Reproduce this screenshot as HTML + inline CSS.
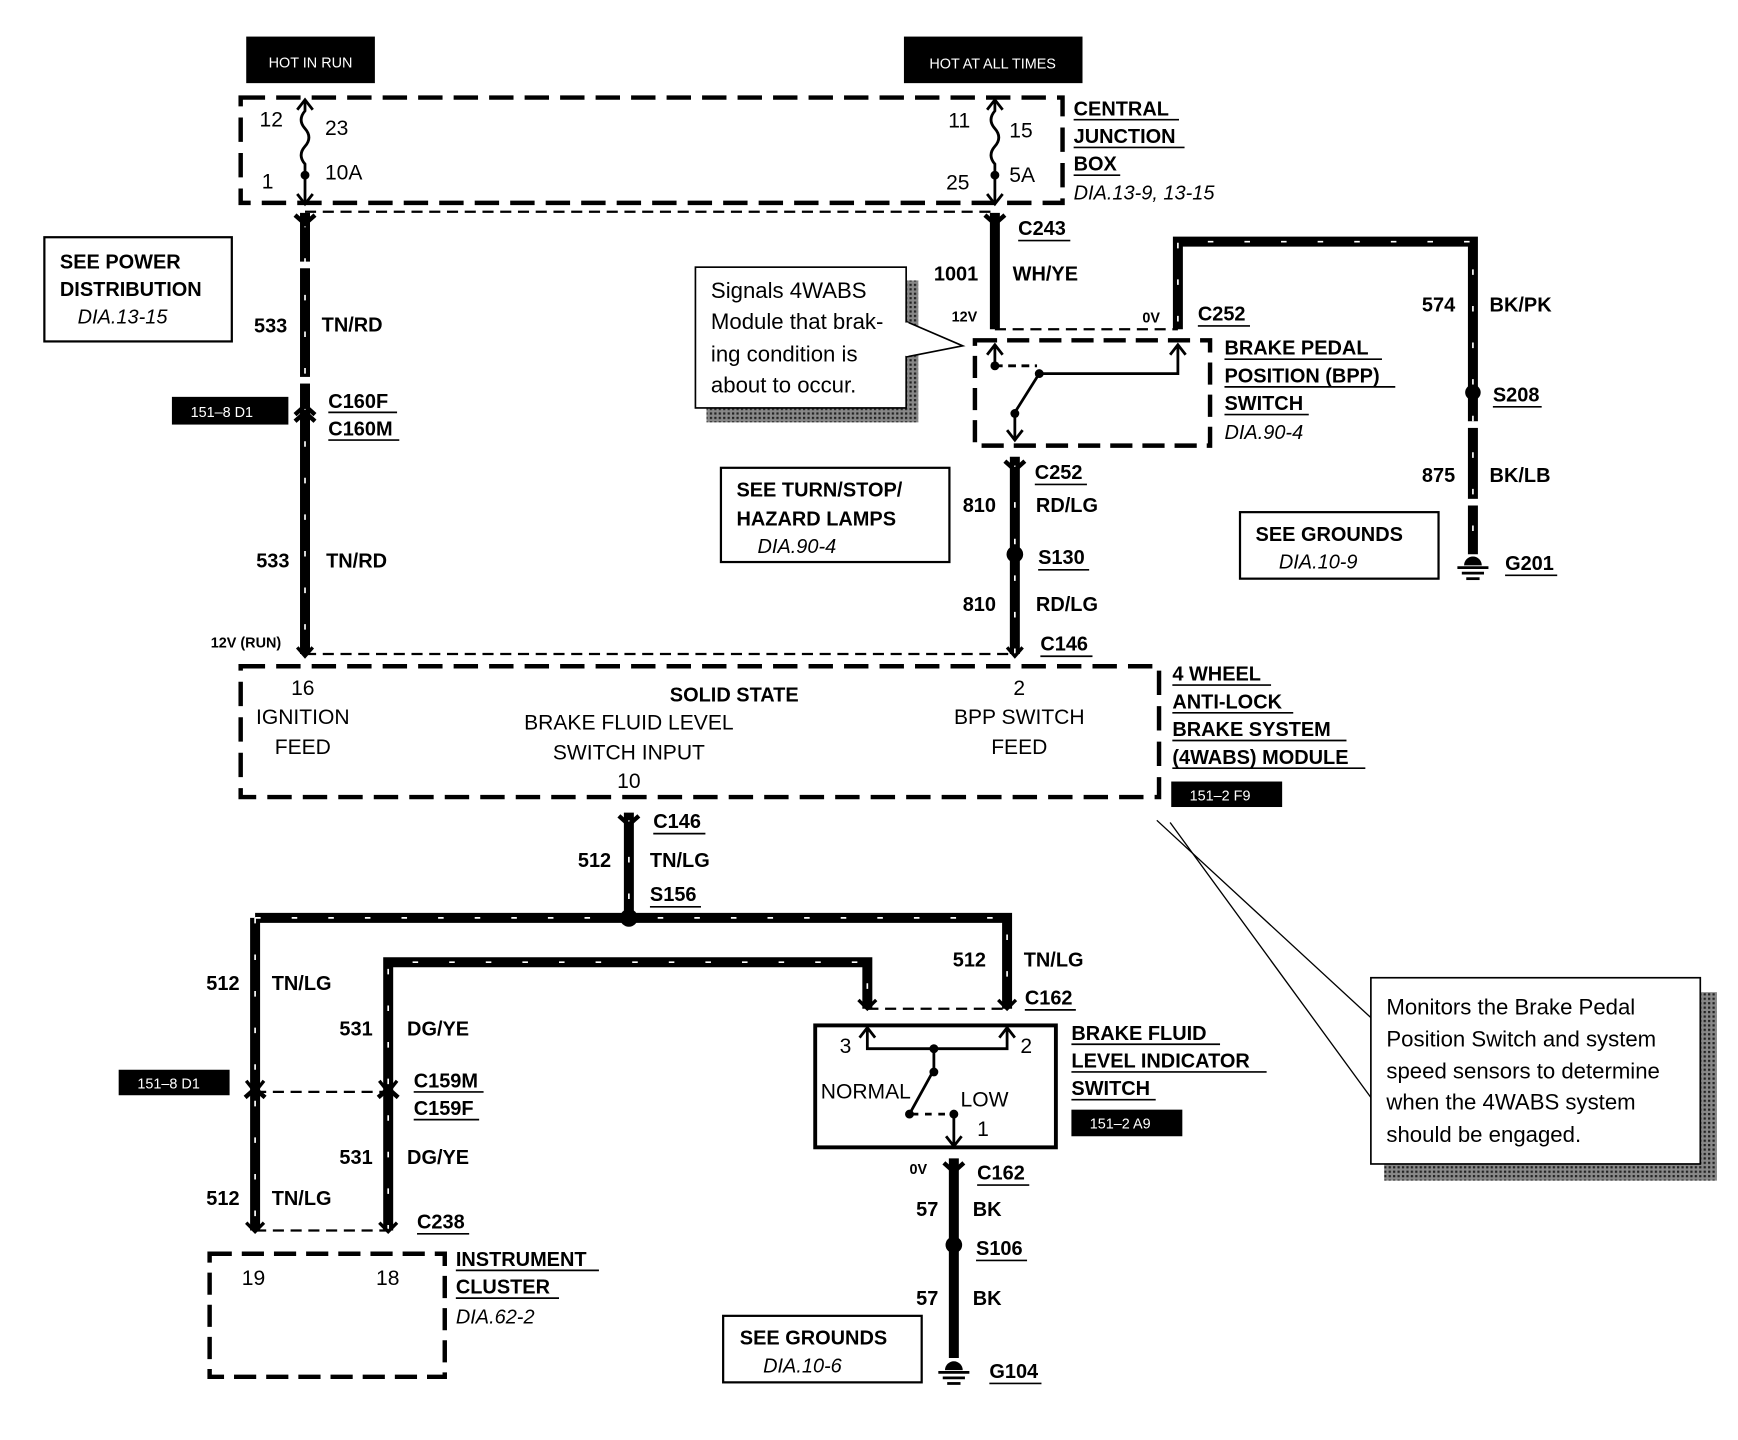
<!DOCTYPE html>
<html><head><meta charset="utf-8"><style>
html,body{margin:0;padding:0;background:#fff;}
svg{display:block}
text{font-family:"Liberation Sans",Arial,sans-serif;fill:#000}
.b{font-weight:bold;font-size:18px}
.n{font-size:19px}
.i{font-style:italic;font-size:18px}
.s{font-size:13px;fill:#fff}
.u{stroke:#000;stroke-width:1.5}
</style></head><body>
<svg width="1738" height="1440" viewBox="0 0 1567 1299" preserveAspectRatio="none" xmlns="http://www.w3.org/2000/svg">
<defs>
<pattern id="sh" width="4" height="4" patternUnits="userSpaceOnUse"><rect width="4" height="4" fill="#888"/><rect width="2" height="2" fill="#222"/></pattern>
</defs>
<rect width="1567" height="1299" fill="#fff"/>

<rect x="222" y="33" width="116" height="42" fill="#000"/>
<text x="280" y="61" class="s" text-anchor="middle">HOT IN RUN</text>
<rect x="815" y="33" width="161" height="42" fill="#000"/>
<text x="895" y="62" class="s" text-anchor="middle">HOT AT ALL TIMES</text>

<g fill="none" stroke="#000" stroke-width="9">
<path d="M275 192 V590"/>
<path d="M897 192 V297"/>
<path d="M1062 297 V218 H1328 V500"/>
<path d="M915 412 V590"/>
<path d="M567 733 V828"/>
<path d="M230 828 H908 V910"/>
<path d="M230 828 V1110"/>
<path d="M350 1110 V868 H782 V910"/>
<path d="M860 1045 V1225"/>
</g>
<g fill="none" stroke="#fff" stroke-width="1.5" stroke-dasharray="5 28">
<path d="M275 200 V590"/>
<path d="M1062 290 V218 H1328 V500"/>
<path d="M915 420 V590"/>
<path d="M567 740 V828"/>
<path d="M230 828 H908 V910"/>
<path d="M230 828 V1110"/>
<path d="M350 1110 V868 H782 V910"/>
</g>
<g fill="#fff">
<rect x="268" y="236" width="14" height="6"/><rect x="268" y="340" width="14" height="6"/>
<rect x="1321" y="380" width="14" height="6"/><rect x="1321" y="450" width="14" height="6"/>
</g>

<g fill="none" stroke="#000" stroke-width="2" stroke-dasharray="10 6">
<path d="M275 191 H897"/>
<path d="M897 297 H1062"/>
<path d="M275 590 H915"/>
<path d="M782 910 H908"/>
<path d="M230 985 H350"/>
<path d="M230 1110 H350"/>
</g>

<rect x="217" y="88" width="741" height="95" fill="none" stroke="#000" stroke-width="4" stroke-dasharray="22 10"/>
<g fill="none" stroke="#000" stroke-width="2.5">
<path d="M275 92 V100 Q268 108 275 116 Q282 124 275 132 Q268 140 275 148 V183"/>
<path d="M268 99 L275 90 L282 99"/><path d="M268 175 L275 184 L282 175"/>
<path d="M897 92 V100 Q890 108 897 116 Q904 124 897 132 Q890 140 897 148 V183"/>
<path d="M890 99 L897 90 L904 99"/><path d="M890 175 L897 184 L904 175"/>
</g>
<circle cx="275" cy="158" r="4"/><circle cx="897" cy="158" r="4"/>
<text x="234" y="114" class="n">12</text><text x="293" y="122" class="n">23</text>
<text x="236" y="170" class="n">1</text><text x="293" y="162" class="n">10A</text>
<text x="855" y="115" class="n">11</text><text x="910" y="124" class="n">15</text>
<text x="853" y="171" class="n">25</text><text x="910" y="164" class="n">5A</text>
<text x="968" y="104" class="b">CENTRAL</text><line x1="968" y1="108" x2="1063" y2="108" class="u"/>
<text x="968" y="129" class="b">JUNCTION</text><line x1="968" y1="133" x2="1068" y2="133" class="u"/>
<text x="968" y="154" class="b">BOX</text><line x1="968" y1="158" x2="1010" y2="158" class="u"/>
<text x="968" y="180" class="i">DIA.13-9, 13-15</text>

<g fill="none" stroke="#000" stroke-width="4">
<path d="M266 194 L275 202 L284 194"/>
<path d="M888 194 L897 202 L906 194"/>
<path d="M266 374 L275 366 L284 374"/><path d="M266 380 L275 372 L284 380"/>
<path d="M906 416 L915 424 L924 416"/>
<path d="M558 736 L567 744 L576 736"/>
<path d="M221 990 L230 982 L239 990"/><path d="M341 990 L350 982 L359 990"/>
<path d="M851 1049 L860 1057 L869 1049"/>
</g>
<g fill="none" stroke="#000" stroke-width="3">
<path d="M222 975 L230 985 L238 975"/><path d="M342 975 L350 985 L358 975"/>
<path d="M268 584 L275 592 L282 584"/><path d="M908 584 L915 592 L922 584"/>
<path d="M774 902 L782 910 L790 902"/><path d="M900 902 L908 910 L916 902"/>
<path d="M222 1103 L230 1111 L238 1103"/><path d="M342 1103 L350 1111 L358 1103"/>
</g>

<rect x="40" y="214" width="169" height="94" fill="none" stroke="#000" stroke-width="2"/>
<text x="54" y="242" class="b">SEE POWER</text>
<text x="54" y="267" class="b">DISTRIBUTION</text>
<text x="70" y="292" class="i">DIA.13-15</text>
<text x="229" y="300" class="b">533</text><text x="290" y="299" class="b">TN/RD</text>
<rect x="155" y="358" width="105" height="25" fill="#000"/><text x="200" y="376" class="s" text-anchor="middle">151–8 D1</text>
<text x="296" y="368" class="b">C160F</text><line x1="296" y1="372" x2="358" y2="372" class="u"/>
<text x="296" y="393" class="b">C160M</text><line x1="296" y1="397" x2="360" y2="397" class="u"/>
<text x="231" y="512" class="b">533</text><text x="294" y="512" class="b">TN/RD</text>
<text x="190" y="584" class="b" style="font-size:13px">12V (RUN)</text>

<text x="918" y="212" class="b">C243</text><line x1="918" y1="217" x2="965" y2="217" class="u"/>
<text x="842" y="253" class="b">1001</text><text x="913" y="253" class="b">WH/YE</text>
<text x="858" y="290" class="b" style="font-size:13px">12V</text>
<text x="1030" y="291" class="b" style="font-size:13px">0V</text>
<text x="1080" y="289" class="b">C252</text><line x1="1080" y1="294" x2="1127" y2="294" class="u"/>

<rect x="637" y="253" width="191" height="128" fill="url(#sh)"/>
<rect x="627" y="241" width="190" height="127" fill="#fff" stroke="#000" stroke-width="1.5"/>
<path d="M817 290 L868 312 L817 322" fill="#fff" stroke="#000" stroke-width="1.5"/>
<rect x="814" y="291" width="5" height="30" fill="#fff"/>
<text x="641" y="269" style="font-size:20px">Signals 4WABS</text>
<text x="641" y="297" style="font-size:20px">Module that brak-</text>
<text x="641" y="326" style="font-size:20px">ing condition is</text>
<text x="641" y="354" style="font-size:20px">about to occur.</text>

<rect x="879" y="307" width="212" height="95" fill="none" stroke="#000" stroke-width="4" stroke-dasharray="20 9"/>
<g fill="none" stroke="#000" stroke-width="2.5">
<path d="M897 330 V312 M890 320 L897 311 L904 320"/>
<path d="M897 330 H935" stroke-dasharray="7 5"/>
<path d="M937 337 H1062 V312 M1055 320 L1062 311 L1069 320"/>
<path d="M937 337 L915 372 V396 M908 388 L915 397 L922 388"/>
</g>
<circle cx="897" cy="330" r="4"/><circle cx="937" cy="337" r="4"/><circle cx="915" cy="373" r="4"/>
<text x="1104" y="320" class="b">BRAKE PEDAL</text><line x1="1104" y1="324" x2="1246" y2="324" class="u"/>
<text x="1104" y="345" class="b">POSITION (BPP)</text><line x1="1104" y1="349" x2="1258" y2="349" class="u"/>
<text x="1104" y="370" class="b">SWITCH</text><line x1="1104" y1="374" x2="1180" y2="374" class="u"/>
<text x="1104" y="396" class="i">DIA.90-4</text>

<text x="1282" y="281" class="b">574</text><text x="1343" y="281" class="b">BK/PK</text>
<circle cx="1328" cy="354" r="7"/>
<text x="1346" y="362" class="b">S208</text><line x1="1346" y1="367" x2="1390" y2="367" class="u"/>
<text x="1282" y="435" class="b">875</text><text x="1343" y="435" class="b">BK/LB</text>
<g stroke="#000" stroke-width="2.5"><line x1="1314" y1="512" x2="1342" y2="512"/><line x1="1318" y1="517" x2="1338" y2="517"/><line x1="1322" y1="522" x2="1334" y2="522"/></g>
<path d="M1320 510 A8 8 0 0 1 1336 510 Z" />
<text x="1357" y="514" class="b">G201</text><line x1="1357" y1="519" x2="1404" y2="519" class="u"/>
<rect x="1118" y="462" width="179" height="60" fill="none" stroke="#000" stroke-width="2"/>
<text x="1132" y="488" class="b">SEE GROUNDS</text><text x="1153" y="513" class="i">DIA.10-9</text>

<rect x="650" y="422" width="206" height="85" fill="none" stroke="#000" stroke-width="2"/>
<text x="664" y="448" class="b">SEE TURN/STOP/</text>
<text x="664" y="474" class="b">HAZARD LAMPS</text>
<text x="683" y="499" class="i">DIA.90-4</text>

<text x="933" y="432" class="b">C252</text><line x1="933" y1="437" x2="980" y2="437" class="u"/>
<text x="868" y="462" class="b">810</text><text x="934" y="462" class="b">RD/LG</text>
<circle cx="915" cy="500" r="7.5"/>
<text x="936" y="509" class="b">S130</text><line x1="936" y1="514" x2="982" y2="514" class="u"/>
<text x="868" y="551" class="b">810</text><text x="934" y="551" class="b">RD/LG</text>
<text x="938" y="587" class="b">C146</text><line x1="938" y1="592" x2="985" y2="592" class="u"/>

<rect x="217" y="601" width="828" height="118" fill="none" stroke="#000" stroke-width="4" stroke-dasharray="22 10"/>
<g class="n" text-anchor="middle">
<text x="273" y="627">16</text><text x="273" y="653">IGNITION</text><text x="273" y="680">FEED</text>
<text x="567" y="658">BRAKE FLUID LEVEL</text><text x="567" y="685">SWITCH INPUT</text><text x="567" y="711">10</text>
<text x="919" y="627">2</text><text x="919" y="653">BPP SWITCH</text><text x="919" y="680">FEED</text>
</g>
<text x="662" y="633" class="b" text-anchor="middle">SOLID STATE</text>
<text x="1057" y="614" class="b">4 WHEEL</text><line x1="1057" y1="618" x2="1146" y2="618" class="u"/>
<text x="1057" y="639" class="b">ANTI-LOCK</text><line x1="1057" y1="643" x2="1166" y2="643" class="u"/>
<text x="1057" y="664" class="b">BRAKE SYSTEM</text><line x1="1057" y1="668" x2="1214" y2="668" class="u"/>
<text x="1057" y="689" class="b">(4WABS) MODULE</text><line x1="1057" y1="693" x2="1231" y2="693" class="u"/>
<rect x="1056" y="705" width="100" height="23" fill="#000"/><text x="1100" y="722" class="s" text-anchor="middle">151–2 F9</text>

<line x1="1043" y1="740" x2="1236" y2="918" stroke="#000" stroke-width="1.2"/>
<line x1="1055" y1="742" x2="1236" y2="990" stroke="#000" stroke-width="1.2"/>
<rect x="1248" y="895" width="300" height="170" fill="url(#sh)"/>
<rect x="1236" y="882" width="297" height="168" fill="#fff" stroke="#000" stroke-width="1.5"/>
<g style="font-size:20px">
<text x="1250" y="915">Monitors the Brake Pedal</text>
<text x="1250" y="944">Position Switch and system</text>
<text x="1250" y="973">speed sensors to determine</text>
<text x="1250" y="1001">when the 4WABS system</text>
<text x="1250" y="1030">should be engaged.</text>
</g>

<text x="589" y="747" class="b">C146</text><line x1="589" y1="752" x2="636" y2="752" class="u"/>
<text x="521" y="782" class="b">512</text><text x="586" y="782" class="b">TN/LG</text>
<text x="586" y="813" class="b">S156</text><line x1="586" y1="818" x2="632" y2="818" class="u"/>
<circle cx="567" cy="828" r="8"/>
<text x="859" y="872" class="b">512</text><text x="923" y="872" class="b">TN/LG</text>
<text x="924" y="906" class="b">C162</text><line x1="924" y1="911" x2="970" y2="911" class="u"/>
<text x="186" y="893" class="b">512</text><text x="245" y="893" class="b">TN/LG</text>
<text x="306" y="934" class="b">531</text><text x="367" y="934" class="b">DG/YE</text>
<rect x="107" y="965" width="100" height="23" fill="#000"/><text x="152" y="982" class="s" text-anchor="middle">151–8 D1</text>
<text x="373" y="981" class="b">C159M</text><line x1="373" y1="985" x2="436" y2="985" class="u"/>
<text x="373" y="1006" class="b">C159F</text><line x1="373" y1="1010" x2="432" y2="1010" class="u"/>
<text x="306" y="1050" class="b">531</text><text x="367" y="1050" class="b">DG/YE</text>
<text x="186" y="1087" class="b">512</text><text x="245" y="1087" class="b">TN/LG</text>
<text x="376" y="1108" class="b">C238</text><line x1="376" y1="1113" x2="423" y2="1113" class="u"/>

<rect x="189" y="1131" width="212" height="111" fill="none" stroke="#000" stroke-width="4" stroke-dasharray="20 9"/>
<text x="218" y="1159" class="n">19</text><text x="339" y="1159" class="n">18</text>
<text x="411" y="1142" class="b">INSTRUMENT</text><line x1="411" y1="1146" x2="540" y2="1146" class="u"/>
<text x="411" y="1167" class="b">CLUSTER</text><line x1="411" y1="1171" x2="504" y2="1171" class="u"/>
<text x="411" y="1194" class="i">DIA.62-2</text>

<rect x="735" y="925" width="217" height="110" fill="none" stroke="#000" stroke-width="3.5"/>
<g fill="none" stroke="#000" stroke-width="2.5">
<path d="M782 928 V946 H908 V928 M775 936 L782 927 L789 936 M901 936 L908 927 L915 936"/>
<path d="M842 946 V965 L820 1005"/>
<path d="M822 1005 H852" stroke-dasharray="6 6"/>
<path d="M860 1005 V1033 M853 1025 L860 1034 L867 1025"/>
</g>
<circle cx="842" cy="946" r="4"/><circle cx="842" cy="967" r="4"/><circle cx="820" cy="1005" r="4"/><circle cx="860" cy="1005" r="4"/>
<text x="757" y="950" class="n">3</text><text x="920" y="950" class="n">2</text>
<text x="740" y="991" class="n">NORMAL</text><text x="866" y="998" class="n">LOW</text><text x="881" y="1025" class="n">1</text>
<text x="966" y="938" class="b">BRAKE FLUID</text><line x1="966" y1="942" x2="1100" y2="942" class="u"/>
<text x="966" y="963" class="b">LEVEL INDICATOR</text><line x1="966" y1="967" x2="1142" y2="967" class="u"/>
<text x="966" y="988" class="b">SWITCH</text><line x1="966" y1="992" x2="1042" y2="992" class="u"/>
<rect x="966" y="1001" width="100" height="24" fill="#000"/><text x="1010" y="1018" class="s" text-anchor="middle">151–2 A9</text>

<text x="820" y="1059" class="b" style="font-size:13px">0V</text>
<text x="881" y="1064" class="b">C162</text><line x1="881" y1="1069" x2="928" y2="1069" class="u"/>
<text x="826" y="1097" class="b">57</text><text x="877" y="1097" class="b">BK</text>
<circle cx="860" cy="1123" r="7.5"/>
<text x="880" y="1132" class="b">S106</text><line x1="880" y1="1137" x2="926" y2="1137" class="u"/>
<text x="826" y="1177" class="b">57</text><text x="877" y="1177" class="b">BK</text>
<g stroke="#000" stroke-width="2.5"><line x1="846" y1="1238" x2="874" y2="1238" /><line x1="850" y1="1243" x2="870" y2="1243"/><line x1="854" y1="1248" x2="866" y2="1248"/></g>
<path d="M852 1236 A8 8 0 0 1 868 1236 Z"/>
<text x="892" y="1243" class="b">G104</text><line x1="892" y1="1248" x2="939" y2="1248" class="u"/>
<rect x="652" y="1187" width="179" height="60" fill="none" stroke="#000" stroke-width="2"/>
<text x="667" y="1213" class="b">SEE GROUNDS</text><text x="688" y="1238" class="i">DIA.10-6</text>
</svg>
</body></html>
